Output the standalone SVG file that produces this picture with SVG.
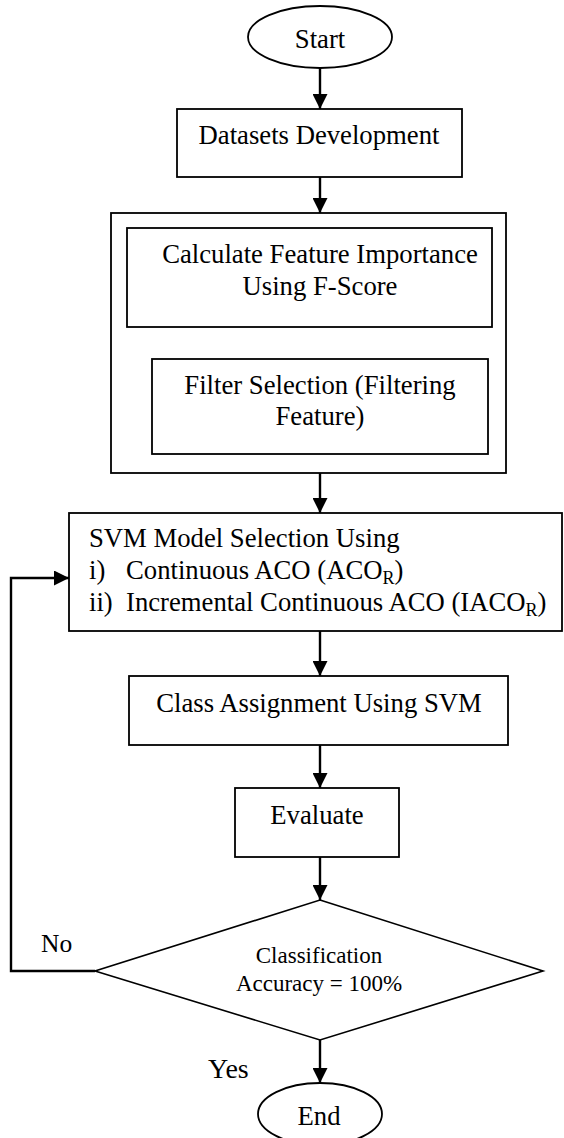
<svg xmlns="http://www.w3.org/2000/svg" width="564" height="1138" viewBox="0 0 564 1138">
<style>
.n{fill:#fff;stroke:#000;stroke-width:1.8}
.t{font-family:"Liberation Serif","Times New Roman",serif;font-size:26.7px;fill:#000}
.c{text-anchor:middle}
.s{font-family:"Liberation Serif","Times New Roman",serif;font-size:23px;fill:#000;text-anchor:middle}
.e{fill:none;stroke:#000;stroke-width:2.4}
</style>
<defs>
<marker id="ah" markerUnits="userSpaceOnUse" markerWidth="15" markerHeight="15" refX="15" refY="7.5" orient="auto">
<path d="M0,0 L15,7.5 L0,15 z" fill="#000"/>
</marker>
</defs>
<rect width="564" height="1138" fill="#fff"/>
<g id="connectors">
<line class="e" x1="320" y1="68" x2="320" y2="109" marker-end="url(#ah)"/>
<line class="e" x1="320" y1="177" x2="320" y2="213" marker-end="url(#ah)"/>
<line class="e" x1="322" y1="327" x2="322" y2="359" marker-end="url(#ah)"/>
<line class="e" x1="320" y1="473" x2="320" y2="513" marker-end="url(#ah)"/>
<line class="e" x1="320" y1="631" x2="320" y2="676" marker-end="url(#ah)"/>
<line class="e" x1="320" y1="745" x2="320" y2="788" marker-end="url(#ah)"/>
<line class="e" x1="320" y1="857" x2="320" y2="900" marker-end="url(#ah)"/>
<line class="e" x1="320" y1="1040" x2="320" y2="1083" marker-end="url(#ah)"/>
<polyline class="e" points="95,971 11,971 11,578 69,578" marker-end="url(#ah)"/>
<text class="t" x="41" y="952" style="font-size:25.5px">No</text>
<text class="t" x="208" y="1078" style="font-size:28px">Yes</text>
</g>
<g id="start">
<ellipse class="n" cx="320" cy="37" rx="72" ry="31"/>
<text class="t c" x="320" y="48">Start</text>
</g>
<g id="datasets">
<rect class="n" x="177" y="109" width="285" height="68"/>
<text class="t c" x="319" y="144">Datasets Development</text>
</g>
<g id="feature-group">
<rect class="n" x="111" y="213" width="395" height="260"/>
</g>
<g id="calculate">
<rect class="n" x="127" y="228" width="365" height="99"/>
<text class="t c" x="320" y="263">Calculate Feature Importance</text>
<text class="t c" x="320" y="295">Using F-Score</text>
</g>
<g id="filter">
<rect class="n" x="152" y="359" width="336" height="95"/>
<text class="t c" x="320" y="394">Filter Selection (Filtering</text>
<text class="t c" x="320" y="425">Feature)</text>
</g>
<g id="svm">
<rect class="n" x="69" y="513" width="493" height="118"/>
<text class="t" x="89" y="547">SVM Model Selection Using</text>
<text class="t" x="89" y="579">i)</text>
<text class="t" x="126" y="579">Continuous ACO (ACO<tspan style="font-size:18px" dy="5">R</tspan><tspan dy="-5">)</tspan></text>
<text class="t" x="89" y="611">ii)</text>
<text class="t" x="126" y="611">Incremental Continuous ACO (IACO<tspan style="font-size:18px" dy="5">R</tspan><tspan dy="-5">)</tspan></text>
</g>
<g id="class">
<rect class="n" x="129" y="676" width="379" height="69"/>
<text class="t c" x="319" y="712">Class Assignment Using SVM</text>
</g>
<g id="evaluate">
<rect class="n" x="235" y="788" width="164" height="69"/>
<text class="t c" x="317" y="824">Evaluate</text>
</g>
<g id="decision">
<polygon class="n" points="320,900 543,971 320,1040 95,971" style="stroke-width:1.6"/>
<text class="s" x="319" y="963">Classification</text>
<text class="s" x="319" y="991">Accuracy = 100%</text>
</g>
<g id="end">
<ellipse class="n" cx="320" cy="1114" rx="62" ry="31"/>
<text class="t c" x="319" y="1125">End</text>
</g>
</svg>
